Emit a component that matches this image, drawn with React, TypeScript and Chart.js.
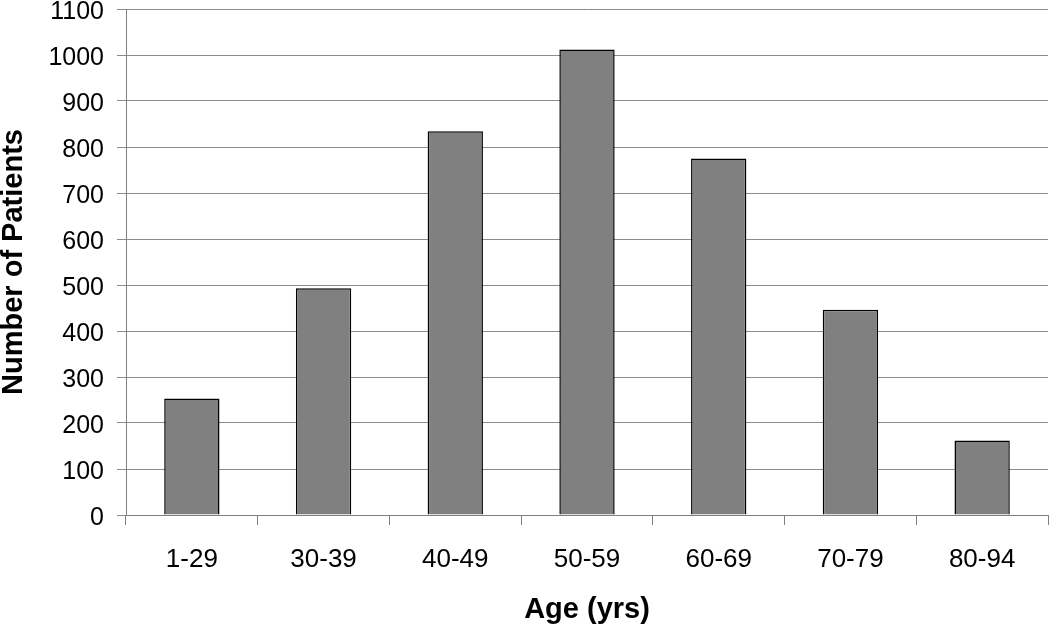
import React, { useEffect, useRef } from "react";
import { Chart, registerables } from "chart.js";

Chart.register(...registerables);

const categories = ["1-29", "30-39", "40-49", "50-59", "60-69", "70-79", "80-94"];
const patients = [253, 493, 834, 1012, 775, 446, 162];
const yMin = 0;
const yMax = 1100;
const yStep = 100;

export default function App() {
  const ref = useRef<HTMLCanvasElement>(null);
  useEffect(() => {
    document.body.style.margin = "0";
    const ctx = ref.current!;
    const font = "'Liberation Sans', Arial, sans-serif";
    const chart = new Chart(ctx, {
      type: "bar",
      data: {
        labels: categories,
        datasets: [
          {
            data: patients,
            backgroundColor: "#808080",
            borderColor: "#000000",
            borderWidth: 1.5,
            categoryPercentage: 1,
            barPercentage: 0.42,
          },
        ],
      },
      options: {
        animation: false,
        responsive: false,
        maintainAspectRatio: false,
        layout: { padding: { top: 9, right: 2, left: 0, bottom: 0 } },
        plugins: { legend: { display: false }, tooltip: { enabled: false } },
        scales: {
          x: {
            offset: true,
            grid: {
              offset: true,
              drawOnChartArea: false,
              drawTicks: true,
              tickLength: 10,
              color: "#808080",
            },
            border: { color: "#808080", width: 1 },
            ticks: {
              color: "#000",
              font: { family: font, size: 26 },
              padding: 19,
            },
            title: {
              display: true,
              text: "Age (yrs)",
              color: "#000",
              font: { family: font, size: 29, weight: "bold" },
              padding: { top: 0, bottom: 0 },
            },
            afterFit: (s: any) => {
              s.height = 112;
              s.paddingLeft = 0;
              s.paddingRight = 0;
            },
          },
          y: {
            min: yMin,
            max: yMax,
            ticks: {
              stepSize: yStep,
              color: "#000",
              font: { family: font, size: 25 },
              padding: 13,
              labelOffset: 3,
              callback: (v: any) => String(v),
            },
            grid: { color: "#8c8c8c", tickLength: 9, lineWidth: 1 },
            border: { color: "#808080", width: 1 },
            title: {
              display: true,
              text: "Number of Patients",
              color: "#000",
              font: { family: font, size: 29, weight: "bold" },
              padding: { top: -3, bottom: 0 },
            },
            afterFit: (s: any) => {
              s.width = 126;
              s.paddingTop = 0;
              s.paddingBottom = 0;
            },
          },
        },
      },
    });
    return () => chart.destroy();
  }, []);
  return <canvas ref={ref} width={1050} height={627} style={{ display: "block" }} />;
}
